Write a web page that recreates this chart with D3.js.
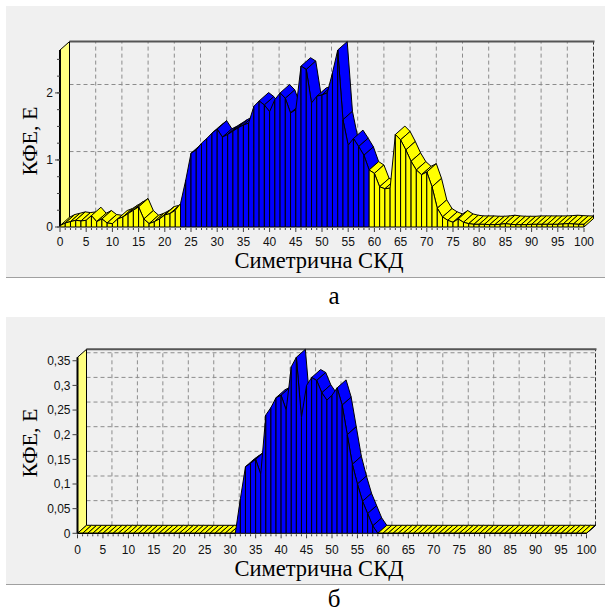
<!DOCTYPE html>
<html>
<head>
<meta charset="utf-8">
<script src="https://cdn.jsdelivr.net/npm/d3@7"></script>
<style>
  html, body { margin: 0; padding: 0; background: #fff; }
  svg { display: block; }
</style>
</head>
<body>
<div id="chart"></div>
<script>
// x categories 0..100, one value per point
const xValues = d3.range(0, 101);
const xTickValues = d3.range(0, 101, 5);

// chart "а"
const topValues = [
  0.02, 0.06, 0.08, 0.1, 0.09, 0.1, 0.17, 0.08, 0.12, 0.06,
  0.05, 0.12, 0.15, 0.2, 0.25, 0.3, 0.12, 0.05, 0.08, 0.12,
  0.18, 0.2, 0.25, 0.35, 0.7, 1.1, 1.15, 1.25, 1.32, 1.4,
  1.46, 1.34, 1.38, 1.43, 1.48, 1.52, 1.55, 1.8, 1.88, 1.82,
  1.72, 1.9, 2.0, 1.92, 1.7, 1.75, 2.4, 2.35, 1.85, 1.95,
  1.97, 2.0, 2.3, 2.64, 1.6, 1.22, 1.32, 1.2, 1.07, 0.85,
  0.8, 0.6, 0.57, 0.58, 1.38, 1.3, 1.15, 0.98, 0.85, 0.78,
  0.82, 0.6, 0.28, 0.15, 0.1, 0.07, 0.12, 0.07, 0.05, 0.04,
  0.04, 0.04, 0.035, 0.035, 0.04, 0.05, 0.04, 0.035, 0.035, 0.035,
  0.04, 0.04, 0.04, 0.04, 0.04, 0.04, 0.045, 0.05, 0.045, 0.04,
  0.04
];
const topBlue = [23, 58];          // first and last blue segment
const topYTicks = [0, 1, 2];
const topYMinor = d3.range(0, 2.64, 0.25);

// chart "б"
const bottomValues = [
  0, 0, 0, 0, 0, 0, 0, 0, 0, 0,
  0, 0, 0, 0, 0, 0, 0, 0, 0, 0,
  0, 0, 0, 0, 0, 0, 0, 0, 0, 0,
  0, 0, 0.07, 0.135, 0.142, 0.15, 0.12, 0.24, 0.255, 0.275,
  0.28, 0.25, 0.338, 0.357, 0.235, 0.3, 0.316, 0.31, 0.285, 0.27,
  0.28, 0.295, 0.26, 0.2, 0.14, 0.1, 0.065, 0.04, 0.015, 0,
  0, 0, 0, 0, 0, 0, 0, 0, 0, 0,
  0, 0, 0, 0, 0, 0, 0, 0, 0, 0,
  0, 0, 0, 0, 0, 0, 0, 0, 0, 0,
  0, 0, 0, 0, 0, 0, 0, 0, 0, 0,
  0
];
const bottomBlue = [31, 58];
const bottomYTicks = [0, 0.05, 0.1, 0.15, 0.2, 0.25, 0.3, 0.35];
const bottomYMinor = [];

const xTitle = "Симетрична СКД";
const yTitle = "КФЕ, Е";

const W = 605, H = 612;
const svg = d3.select("#chart").append("svg")
  .attr("width", W).attr("height", H)
  .attr("viewBox", [0, 0, W, H]);

const commaFmt = (d) => String(+d.toFixed(2)).replace(".", ",");

function drawChart(cfg) {
  const g = svg.append("g");
  const { dx, dy } = cfg;

  // panel
  g.append("rect")
    .attr("x", 6).attr("y", cfg.panelTop)
    .attr("width", W - 6).attr("height", cfg.panelBottom - cfg.panelTop)
    .attr("fill", "#f0f0f0");
  g.append("line")
    .attr("x1", 6).attr("x2", W)
    .attr("y1", cfg.panelBottom + 0.5).attr("y2", cfg.panelBottom + 0.5)
    .attr("stroke", "#a0a0a0");

  const x = d3.scaleLinear().domain([0, 100]).range([cfg.x0, cfg.x1]);
  const y = d3.scaleLinear()
    .domain([0, d3.max(cfg.values)])
    .range([cfg.yBase, cfg.yTop]);
  const yMax = y.domain()[1];

  // back wall grid
  const grid = g.append("g")
    .attr("stroke", "#8c8c8c")
    .attr("stroke-dasharray", "4,3")
    .attr("fill", "none");
  grid.selectAll(".vg")
    .data(xTickValues.filter((d) => d > 0 && d < 100))
    .join("line")
    .attr("x1", (d) => x(d) + dx).attr("x2", (d) => x(d) + dx)
    .attr("y1", y(0) - dy).attr("y2", y(yMax) - dy);
  grid.selectAll(".hg")
    .data(cfg.yTicks.filter((d) => d > 0))
    .join("line")
    .attr("x1", x(0) + dx).attr("x2", x(100) + dx)
    .attr("y1", (d) => y(d) - dy).attr("y2", (d) => y(d) - dy);

  // right edge and top edge of back wall
  g.append("line")
    .attr("x1", x(100) + dx).attr("x2", x(100) + dx)
    .attr("y1", y(0) - dy).attr("y2", y(yMax) - dy)
    .attr("stroke", "#333").attr("stroke-dasharray", "4,2");
  g.append("line")
    .attr("x1", x(0) + dx).attr("x2", x(100) + dx + 1)
    .attr("y1", y(yMax) - dy).attr("y2", y(yMax) - dy)
    .attr("stroke", "#555").attr("stroke-width", 2);

  // left wall
  g.append("path")
    .attr("d", d3.line()([
      [x(0), y(0)], [x(0), y(yMax)], [x(0) + dx, y(yMax) - dy], [x(0) + dx, y(0) - dy]
    ]) + "Z")
    .attr("fill", "#ffff80").attr("stroke", "#000").attr("stroke-width", 1);
  g.append("line")
    .attr("x1", x(0)).attr("x2", x(0))
    .attr("y1", y(0)).attr("y2", y(yMax))
    .attr("stroke", "#000").attr("stroke-width", 2);

  const color = (i) => (i >= cfg.blue[0] && i <= cfg.blue[1] ? "#0000ff" : "#ffff00");

  const segs = d3.range(cfg.values.length - 1).map((i) => {
    const a = [x(xValues[i]), y(cfg.values[i])];
    const b = [x(xValues[i + 1]), y(cfg.values[i + 1])];
    return { i, a, b };
  });

  // top ribbon faces (only the ones facing the viewer)
  const visible = segs.filter((s) =>
    (s.b[0] - s.a[0]) * -dy - (s.b[1] - s.a[1]) * dx < 0);
  g.append("g").selectAll("path")
    .data(visible)
    .join("path")
    .attr("d", (s) => d3.line()([
      s.a, s.b, [s.b[0] + dx, s.b[1] - dy], [s.a[0] + dx, s.a[1] - dy]
    ]) + "Z")
    .attr("fill", (s) => color(s.i))
    .attr("stroke", "#000").attr("stroke-width", 1)
    .attr("stroke-linejoin", "round");

  // front faces
  g.append("g").selectAll("path")
    .data(segs)
    .join("path")
    .attr("d", (s) => d3.line()([
      [s.a[0], y(0)], s.a, s.b, [s.b[0], y(0)]
    ]) + "Z")
    .attr("fill", (s) => color(s.i))
    .attr("stroke", "#000").attr("stroke-width", 1)
    .attr("stroke-linejoin", "round");

  // right end face
  const last = cfg.values.length - 1;
  const xe = x(xValues[last]), ye = y(cfg.values[last]);
  g.append("path")
    .attr("d", d3.line()([
      [xe, y(0)], [xe, ye], [xe + dx, ye - dy], [xe + dx, y(0) - dy]
    ]) + "Z")
    .attr("fill", color(last - 1)).attr("stroke", "#000");

  // x axis ticks and labels
  const ax = g.append("g").attr("stroke", "#404040");
  ax.selectAll(".mt")
    .data(xValues)
    .join("line")
    .attr("x1", (d) => x(d)).attr("x2", (d) => x(d))
    .attr("y1", y(0) + 1).attr("y2", (d) => y(0) + (d % 5 === 0 ? 5 : 3));
  g.append("g").selectAll("text")
    .data(xTickValues)
    .join("text")
    .attr("x", (d) => x(d)).attr("y", cfg.xLabelY)
    .attr("text-anchor", "middle")
    .attr("font-family", "Liberation Sans, Arial, sans-serif")
    .attr("font-size", 12).attr("fill", "#111")
    .text((d) => d);

  // y axis ticks and labels
  const ay = g.append("g").attr("stroke", "#404040");
  ay.selectAll(".ym")
    .data(cfg.yMinor)
    .join("line")
    .attr("x1", x(0) - 3).attr("x2", x(0))
    .attr("y1", (d) => y(d)).attr("y2", (d) => y(d));
  ay.selectAll(".yt")
    .data(cfg.yTicks)
    .join("line")
    .attr("x1", x(0) - 5).attr("x2", x(0))
    .attr("y1", (d) => y(d)).attr("y2", (d) => y(d));
  g.append("g").selectAll("text")
    .data(cfg.yTicks)
    .join("text")
    .attr("x", x(0) - 7).attr("y", (d) => y(d))
    .attr("dy", "0.36em")
    .attr("text-anchor", "end")
    .attr("font-family", "Liberation Sans, Arial, sans-serif")
    .attr("font-size", 12).attr("fill", "#111")
    .text(commaFmt);

  // titles
  g.append("text")
    .attr("x", 319).attr("y", cfg.xTitleY)
    .attr("text-anchor", "middle")
    .attr("font-family", "Liberation Serif, Times New Roman, serif")
    .attr("font-size", 22.5).attr("fill", "#000")
    .text(xTitle);
  g.append("text")
    .attr("transform", `translate(37,${cfg.yTitleY}) rotate(-90)`)
    .attr("text-anchor", "middle")
    .attr("font-family", "Liberation Serif, Times New Roman, serif")
    .attr("font-size", 22).attr("fill", "#000")
    .text(yTitle);

  // caption under the panel
  svg.append("text")
    .attr("x", 334).attr("y", cfg.captionY)
    .attr("text-anchor", "middle")
    .attr("font-family", "Liberation Serif, Times New Roman, serif")
    .attr("font-size", 25).attr("fill", "#000")
    .text(cfg.caption);
}

drawChart({
  values: topValues, blue: topBlue, yTicks: topYTicks, yMinor: topYMinor,
  panelTop: 6, panelBottom: 277,
  x0: 60, x1: 584, yBase: 227, yTop: 50, dx: 9.5, dy: 8.4,
  xLabelY: 246, xTitleY: 268, yTitleY: 141, captionY: 304, caption: "а"
});
drawChart({
  values: bottomValues, blue: bottomBlue, yTicks: bottomYTicks, yMinor: bottomYMinor,
  panelTop: 317, panelBottom: 584,
  x0: 77.5, x1: 586.5, yBase: 533.3, yTop: 357.3, dx: 9, dy: 8,
  xLabelY: 554, xTitleY: 576, yTitleY: 443, captionY: 607, caption: "б"
});
</script>
</body>
</html>
